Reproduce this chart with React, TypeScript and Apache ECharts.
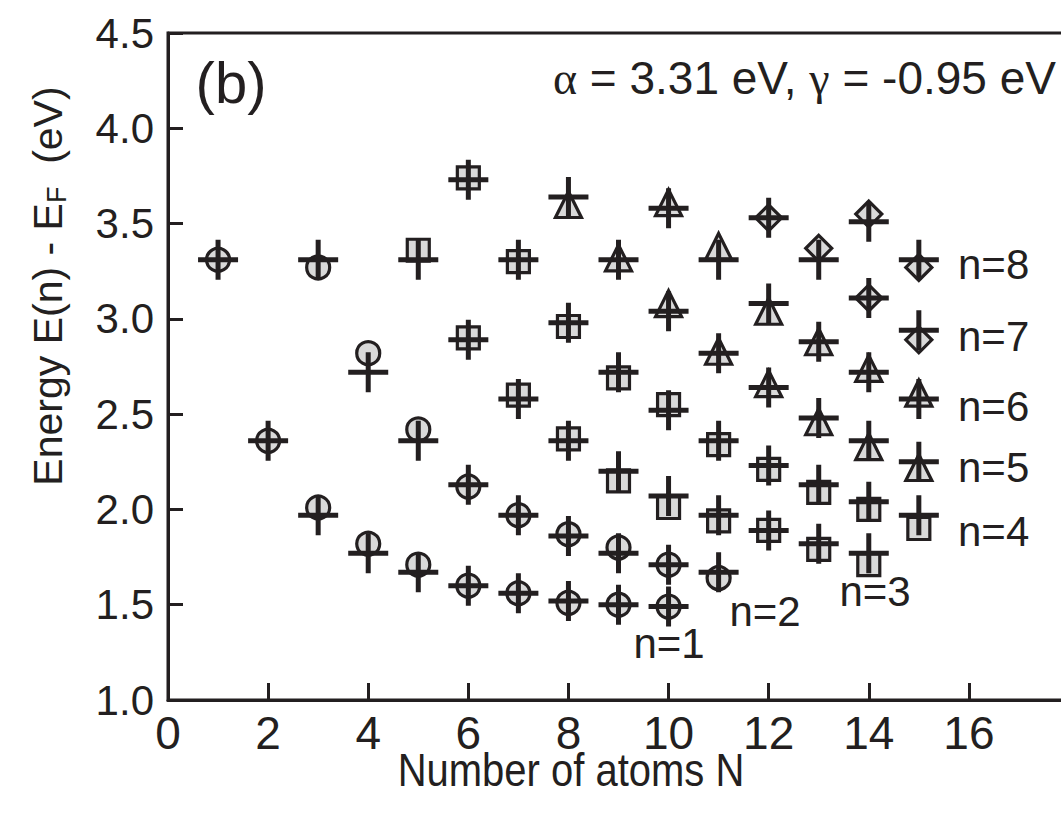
import React, { useEffect, useRef } from "react";
import * as echarts from "echarts";

// Measured (open symbols) values: [N, E(n)-E_F]
const circleData: [number, number][] = [
  [1, 3.31], [2, 2.36], [3, 2.01], [3, 3.27], [4, 1.82], [4, 2.82],
  [5, 1.71], [5, 2.42], [6, 1.6], [6, 2.12], [7, 1.56], [7, 1.97],
  [8, 1.51], [8, 1.87], [9, 1.5], [9, 1.8], [10, 1.49], [10, 1.71], [11, 1.64],
];
const squareData: [number, number][] = [
  [5, 3.36], [6, 2.9], [6, 3.74], [7, 2.6], [7, 3.3], [8, 2.37], [8, 2.96],
  [9, 2.15], [9, 2.69], [10, 2.01], [10, 2.55], [11, 1.94], [11, 2.34],
  [12, 1.89], [12, 2.21], [13, 1.79], [13, 2.09], [14, 1.71], [14, 2.0], [15, 1.9],
];
const triangleData: [number, number][] = [
  [8, 3.6], [9, 3.32], [10, 3.08], [10, 3.61], [11, 2.83], [11, 3.38],
  [12, 2.66], [12, 3.04], [13, 2.46], [13, 2.88], [14, 2.33], [14, 2.74],
  [15, 2.22], [15, 2.61],
];
const diamondData: [number, number][] = [
  [12, 3.53], [13, 3.37], [14, 3.11], [14, 3.55], [15, 2.89], [15, 3.27],
];
// Calculated values (thick crosses)
const crossData: [number, number][] = [
  [1, 3.31], [2, 2.36], [3, 1.97], [3, 3.31], [4, 1.77], [4, 2.72],
  [5, 1.67], [5, 2.36], [5, 3.31], [6, 1.6], [6, 2.13], [6, 2.89], [6, 3.73],
  [7, 1.56], [7, 1.97], [7, 2.58], [7, 3.31],
  [8, 1.52], [8, 1.86], [8, 2.36], [8, 2.98], [8, 3.64],
  [9, 1.5], [9, 1.77], [9, 2.2], [9, 2.72], [9, 3.31],
  [10, 1.49], [10, 1.71], [10, 2.07], [10, 2.52], [10, 3.04], [10, 3.58],
  [11, 1.67], [11, 1.97], [11, 2.36], [11, 2.82], [11, 3.31],
  [12, 1.89], [12, 2.23], [12, 2.64], [12, 3.08], [12, 3.53],
  [13, 1.82], [13, 2.13], [13, 2.48], [13, 2.88], [13, 3.31],
  [14, 1.77], [14, 2.04], [14, 2.36], [14, 2.72], [14, 3.11], [14, 3.51],
  [15, 1.97], [15, 2.25], [15, 2.58], [15, 2.94], [15, 3.31],
];

const nLabelsText = ["n=1", "n=2", "n=3", "n=4", "n=5", "n=6", "n=7", "n=8"];
const panelLabel = "(b)";
const xTitle = "Number of atoms N";

const INK = "#231f20";
const FILL = "#d9d9d9";
const FONT = "'Liberation Sans', Arial, Helvetica, sans-serif";
const SERIF = "'Liberation Serif', 'DejaVu Serif', serif";
const CROSS =
  "path://M17.5,0 h5 v17.5 h17.5 v5 h-17.5 v17.5 h-5 v-17.5 h-17.5 v-5 h17.5 z";

const labelPos: [number, number, string][] = [
  [669, 643, "center"],
  [765, 611, "center"],
  [875, 591, "center"],
  [958, 531, "left"],
  [958, 467, "left"],
  [958, 406, "left"],
  [958, 336, "left"],
  [958, 264, "left"],
];

export default function App() {
  const ref = useRef<HTMLDivElement>(null);
  useEffect(() => {
    if (!ref.current) return;
    const chart = echarts.init(ref.current, undefined, { renderer: "svg" });
    const sym = (name: string, data: [number, number][], symbol: string, size: number) => ({
      type: "scatter",
      name,
      data,
      symbol,
      symbolSize: size,
      itemStyle: { color: FILL, borderColor: INK, borderWidth: 3.2, opacity: 1 },
      z: 2,
    });
    chart.setOption({
      animation: false,
      backgroundColor: "#ffffff",
      textStyle: { fontFamily: FONT, color: INK },
      grid: {
        left: 168,
        top: 33,
        width: 901,
        bottom: 118,
        show: true,
        borderColor: INK,
        borderWidth: 3,
      },
      xAxis: {
        type: "value",
        min: 0,
        max: 18,
        interval: 2,
        axisLine: { lineStyle: { color: INK, width: 3 } },
        axisTick: { inside: true, length: 17, lineStyle: { color: INK, width: 3 } },
        splitLine: { show: false },
        axisLabel: {
          color: INK,
          fontFamily: FONT,
          fontSize: 46,
          margin: 10,
          formatter: (v: number) => (v >= 18 ? "" : String(v)),
        },
      },
      yAxis: {
        type: "value",
        min: 1,
        max: 4.5,
        interval: 0.5,
        axisLine: { lineStyle: { color: INK, width: 3 } },
        axisTick: { inside: true, length: 15, lineStyle: { color: INK, width: 3 } },
        splitLine: { show: false },
        axisLabel: {
          color: INK,
          fontFamily: FONT,
          fontSize: 42,
          margin: 14,
          formatter: (v: number) => v.toFixed(1),
        },
      },
      graphic: [
        {
          type: "text",
          x: 48,
          y: 286,
          rotation: Math.PI / 2,
          style: {
            text: "{a|Energy E(n) - E}{s|F}{a|  (eV)}",
            align: "center",
            verticalAlign: "middle",
            fill: INK,
            rich: {
              a: { fontSize: 41, fontFamily: FONT, fill: INK, lineHeight: 44 },
              s: { fontSize: 27, fontFamily: FONT, fill: INK, verticalAlign: "bottom", padding: [14, 0, 0, 0] },
            },
          },
        },
        {
          type: "text",
          x: 571,
          y: 770,
          scaleY: 1.15,
          style: { text: xTitle, font: `40px ${FONT}`, fill: INK, align: "center", verticalAlign: "middle" },
        },
        {
          type: "text",
          x: 231,
          y: 82,
          style: { text: panelLabel, font: `58px ${FONT}`, fill: INK, align: "center", verticalAlign: "middle" },
        },
        {
          type: "text",
          x: 1056,
          y: 78,
          style: {
            text: "{g|\u03b1}{a| = 3.31 eV, }{g|\u03b3}{a| = -0.95 eV}",
            align: "right",
            verticalAlign: "middle",
            fill: INK,
            rich: {
              a: { fontSize: 46, fontFamily: FONT, fill: INK },
              g: { fontSize: 46, fontFamily: SERIF, fill: INK },
            },
          },
        },
        ...nLabelsText.map((t, i) => ({
          type: "text",
          x: labelPos[i][0],
          y: labelPos[i][1],
          style: { text: t, font: `42px ${FONT}`, fill: INK, align: labelPos[i][2], verticalAlign: "middle" },
        })),
      ],
      series: [
        sym("circle", circleData, "circle", 23),
        sym("square", squareData, "rect", 22),
        sym("triangle", triangleData, "triangle", 26),
        sym("diamond", diamondData, "diamond", 26),
        {
          type: "scatter",
          name: "calc",
          data: crossData,
          symbol: CROSS,
          symbolSize: 40,
          itemStyle: { color: INK, opacity: 1 },
          z: 3,
        },
      ],
    });
    return () => chart.dispose();
  }, []);
  return (
    <div style={{ position: "absolute", left: 0, top: 0, width: 1061, height: 818, overflow: "hidden", background: "#fff" }}>
      <div ref={ref} style={{ width: 1100, height: 818 }} />
    </div>
  );
}
